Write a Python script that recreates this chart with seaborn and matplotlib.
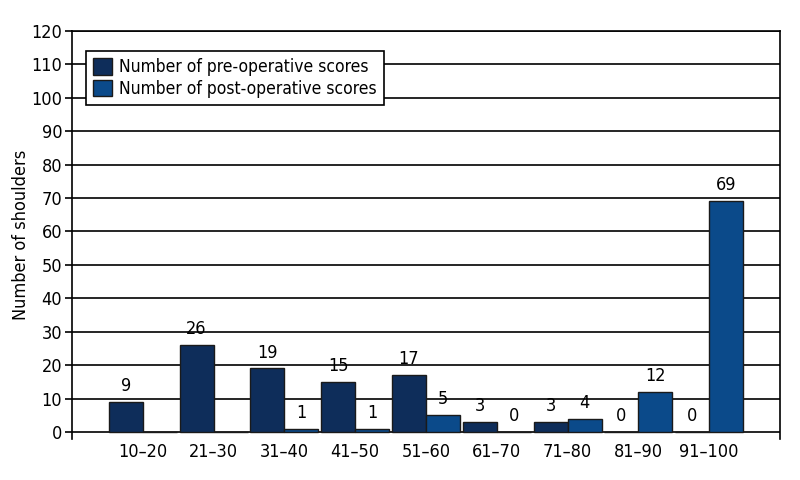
import seaborn as sns
import matplotlib.pyplot as plt
import numpy as np
import pandas as pd

ranges = ['10–20', '21–30', '31–40', '41–50', '51–60', '61–70', '71–80', '81–90', '91–100']
pre_scores = [9, 26, 19, 15, 17, 3, 3, 0, 0]
post_scores = [0, 0, 1, 1, 5, 0, 4, 12, 69]
# which value labels are printed in the original (blank where none is shown)
pre_labels = ['9', '26', '19', '15', '17', '3', '3', '0', '0']
post_labels = ['', '', '1', '1', '5', '0', '4', '12', '69']

series = ['Number of pre-operative scores', 'Number of post-operative scores']
df = pd.DataFrame({
    'range': ranges * 2,
    'count': pre_scores + post_scores,
    'series': [series[0]] * len(ranges) + [series[1]] * len(ranges),
})

sns.set_theme(style="ticks")
plt.rcParams['font.family'] = ['DejaVu Sans']
plt.rcParams['font.stretch'] = 'condensed'
plt.rcParams['text.color'] = 'black'
plt.rcParams['axes.edgecolor'] = 'black'

fig = plt.figure(figsize=(8, 4.8), dpi=100)
ax = fig.add_axes([72/800, 1-439/480, 708/800, 408/480])

pal = ['#0e2d5a', '#0b4a8a']
sns.barplot(data=df, x='range', y='count', hue='series', palette=pal,
            width=0.96, gap=0, edgecolor='#1a1a1a', linewidth=1,
            saturation=1, ax=ax, zorder=3)

for cont, labs in zip(ax.containers, [pre_labels, post_labels]):
    ax.bar_label(cont, labels=labs, padding=5, fontsize=13, color='black')

ax.set_xlim(-1, 9)
ax.set_ylim(-2.1, 120)
ax.set_yticks(np.arange(0, 121, 10))
ax.yaxis.grid(True, color='black', linewidth=1.2)
ax.set_axisbelow(True)
ax.spines['bottom'].set_visible(False)
for s in ['left', 'right', 'top']:
    ax.spines[s].set_linewidth(1.2)
ax.tick_params(axis='y', length=5, width=1.2, labelsize=13, pad=2, colors='black')
ax.tick_params(axis='x', length=0, labelsize=13, pad=3, colors='black')
ax.set_xlabel('')
ax.set_ylabel('Number of shoulders', fontsize=13, color='black', labelpad=1)

leg = ax.legend(loc='upper left', bbox_to_anchor=(0.02, 0.951), borderaxespad=0,
                fontsize=12.5, frameon=True, fancybox=False, edgecolor='black',
                framealpha=1, handlelength=1.1, handleheight=1.1,
                handletextpad=0.4, borderpad=0.4, labelspacing=0.2)
leg.get_frame().set_linewidth(1.2)
leg.set_zorder(5)
for t in leg.get_texts():
    t.set_color('black')

fig.savefig('out.png', dpi=100)
